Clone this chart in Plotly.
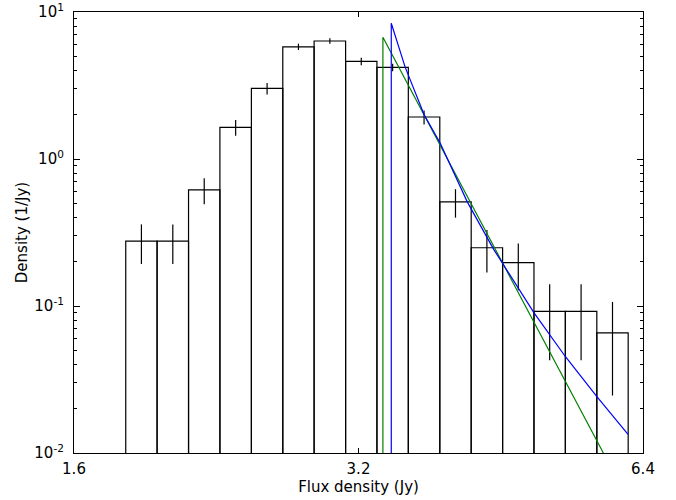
import plotly.graph_objects as go

# Histogram bin edges (Jy), bar heights (1/Jy) and error sizes
bin_edges = [1.815, 1.959, 2.115, 2.283, 2.465, 2.661, 2.872, 3.101, 3.347,
             3.613, 3.901, 4.211, 4.546, 4.907, 5.297, 5.719, 6.173]
densities = [0.276, 0.276, 0.617, 1.64, 3.02, 5.80, 6.35, 4.62, 4.20,
             1.93, 0.511, 0.249, 0.197, 0.0918, 0.0918, 0.0656]
errors = [0.083, 0.083, 0.124, 0.20, 0.27, 0.29, 0.27, 0.27, 0.24,
          0.21, 0.112, 0.08, 0.069, 0.049, 0.049, 0.041]

# Fit curves (vertical drop at x_min, then the fitted tail)
green_x = [3.396, 3.396, 5.811]
green_y = [0.001, 6.73, 0.01]
blue_x = [3.466, 3.466, 3.586, 3.756, 3.903, 4.171, 4.448, 4.908, 5.301, 5.717, 6.171]
blue_y = [0.001, 8.38, 4.20, 1.99, 1.29, 0.511, 0.243, 0.0898, 0.0450, 0.0243, 0.0134]

x_ticks = [1.6, 3.2, 6.4]
y_ticks = [0.01, 0.1, 1, 10]
y_ticktext = ["10<sup>-2</sup>", "10<sup>-1</sup>", "10<sup>0</sup>", "10<sup>1</sup>"]
y_minor = [m * d for d in [0.01, 0.1, 1] for m in range(2, 10)]

BOTTOM = 1e-3

# bar outlines
bx, by = [], []
for i, h in enumerate(densities):
    l, r = bin_edges[i], bin_edges[i + 1]
    bx += [l, l, r, r, None]
    by += [BOTTOM, h, h, BOTTOM, None]

centers = [(bin_edges[i] * bin_edges[i + 1]) ** 0.5 for i in range(len(densities))]

fig = go.Figure()
fig.add_trace(go.Scatter(x=bx, y=by, mode="lines",
                         line=dict(color="black", width=1.2), hoverinfo="skip"))
fig.add_trace(go.Scatter(x=centers, y=densities, mode="markers",
                         marker=dict(size=1, color="rgba(0,0,0,0)"),
                         error_y=dict(type="data", array=errors, color="black",
                                      thickness=1.2, width=0)))
fig.add_trace(go.Scatter(x=green_x, y=green_y, mode="lines",
                         line=dict(color="#008000", width=1.2)))
fig.add_trace(go.Scatter(x=blue_x, y=blue_y, mode="lines",
                         line=dict(color="#0000ff", width=1.2)))

font = dict(family="DejaVu Sans", size=15, color="black")

fig.update_layout(
    width=676, height=500,
    margin=dict(l=74, r=33, t=12, b=47),
    paper_bgcolor="white", plot_bgcolor="white",
    showlegend=False,
    font=font,
    xaxis=dict(type="log", range=[0.20412, 0.80618], automargin=False,
               tickvals=x_ticks, ticktext=[str(v) for v in x_ticks],
               ticks="inside", ticklen=5, tickwidth=1, tickcolor="black",
               showline=True, linecolor="black", linewidth=1.2, mirror="allticks",
               showgrid=False, zeroline=False,
               tickfont=font, ticklabelstandoff=2,
               title=dict(text="Flux density (Jy)", font=font, standoff=4)),
    yaxis=dict(type="log", range=[-2, 1], automargin=False,
               tickvals=y_ticks, ticktext=y_ticktext,
               ticks="inside", ticklen=6, tickwidth=1, tickcolor="black",
               showline=True, linecolor="black", linewidth=1.2, mirror="allticks",
               showgrid=False, zeroline=False,
               minor=dict(tickvals=y_minor, ticks="inside", ticklen=3,
                          tickcolor="black", tickwidth=1, showgrid=False),
               tickfont=font, ticklabelstandoff=6,
               title=dict(text="Density (1/Jy)", font=font, standoff=3)),
)

fig.write_html("out.html")
